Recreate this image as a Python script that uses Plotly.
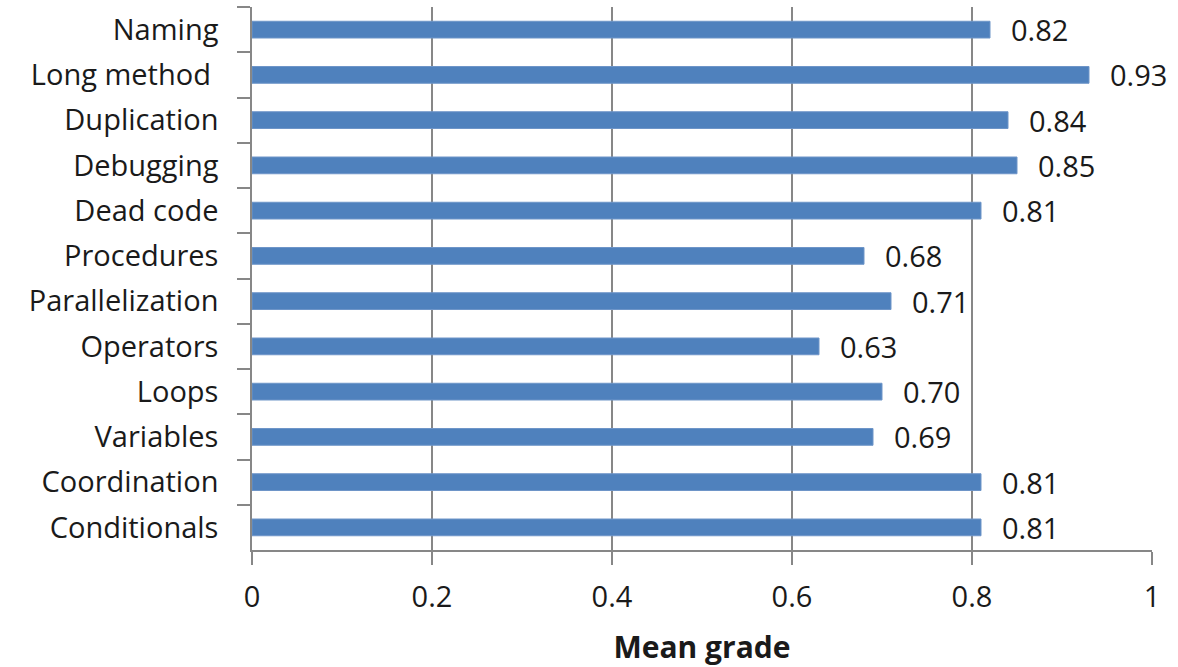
import plotly.graph_objects as go

categories = ["Naming", "Long method ", "Duplication", "Debugging", "Dead code",
              "Procedures", "Parallelization", "Operators", "Loops", "Variables",
              "Coordination", "Conditionals"]
mean_grade = [0.82, 0.93, 0.84, 0.85, 0.81, 0.68, 0.71, 0.63, 0.70, 0.69, 0.81, 0.81]
x_ticks = [0, 0.2, 0.4, 0.6, 0.8, 1]
x_tick_labels = ["0", "0.2", "0.4", "0.6", "0.8", "1"]

FONT = "'Open Sans', Lato, sans-serif"
TEXT = "#1a1a1a"
AXIS_GREY = "#878787"

fig = go.Figure(go.Bar(
    x=mean_grade,
    y=categories,
    orientation="h",
    width=0.37,
    marker=dict(color="#4F81BD", line=dict(color="#6E95C8", width=1)),
    hoverinfo="x+y",
))

# value labels to the right of each bar
for cat, val in zip(categories, mean_grade):
    fig.add_annotation(x=val, y=cat, text=f"{val:.2f}", xanchor="left",
                       xshift=19, showarrow=False,
                       font=dict(family=FONT, size=29, color=TEXT))

fig.update_layout(
    width=1178, height=667,
    margin=dict(l=252, r=26, t=7, b=117),
    paper_bgcolor="white", plot_bgcolor="white",
    showlegend=False,
    font=dict(family=FONT, color=TEXT),
)

fig.update_xaxes(
    range=[0, 1],
    automargin=False,
    tickvals=x_ticks, ticktext=x_tick_labels,
    showgrid=True, gridcolor=AXIS_GREY, gridwidth=1.5,
    showline=True, linecolor=AXIS_GREY, linewidth=1.5,
    ticks="outside", ticklen=13, tickcolor=AXIS_GREY, tickwidth=1.5,
    tickfont=dict(family=FONT, size=29, color=TEXT),
    ticklabelstandoff=7,
    zeroline=False,
    title=dict(text="<b>Mean grade</b>", font=dict(family=FONT, size=30, color=TEXT),
               standoff=28),
)

fig.update_yaxes(
    autorange="reversed",
    automargin=False,
    showgrid=False,
    showline=True, linecolor=AXIS_GREY, linewidth=1.5,
    ticks="outside", ticklen=13, tickcolor=AXIS_GREY, tickwidth=1.5,
    tickson="boundaries",
    tickfont=dict(family=FONT, size=29, color=TEXT),
    ticklabelstandoff=26,
)

fig.write_html("out.html")
